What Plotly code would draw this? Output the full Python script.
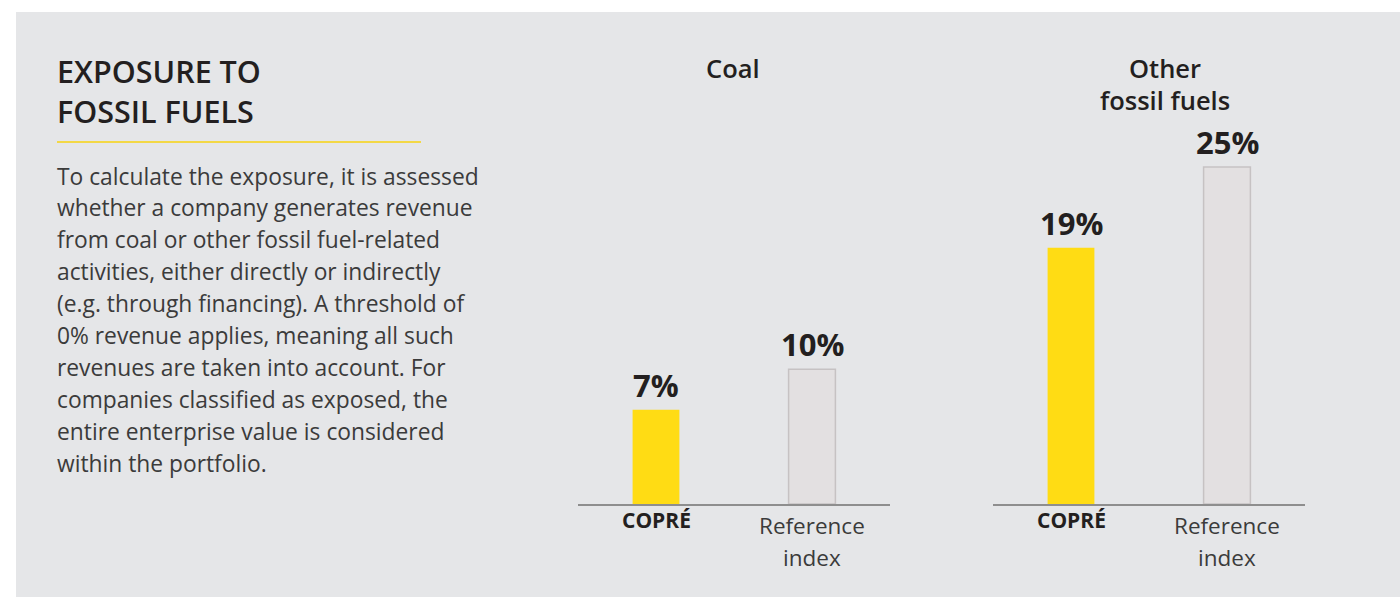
import plotly.graph_objects as go

# ---- data ----
categories = ["COPRÉ", "Reference index"]
groups = ["Coal", "Other fossil fuels"]
coal_values = [7, 10]
other_values = [19, 25]
value_suffix = "%"

title_text = "EXPOSURE TO<br>FOSSIL FUELS"
paragraph_lines = [
    "To calculate the exposure, it is assessed",
    "whether a company generates revenue",
    "from coal or other fossil fuel-related",
    "activities, either directly or indirectly",
    "(e.g. through financing). A threshold of",
    "0% revenue applies, meaning all such",
    "revenues are taken into account. For",
    "companies classified as exposed, the",
    "entire enterprise value is considered",
    "within the portfolio.",
]

# ---- layout helpers ----
W, H = 1400, 597
FONT = "'Open Sans', Lato, sans-serif"
DARK = "#231f20"
TEXT = "#3b3b3b"
YELLOW = "#FFDC14"
REF_FILL = "#e3e0e1"
REF_LINE = "#c6c2c3"
PANEL = "#e5e6e8"


def px(x):
    return x / W


def py(y):
    return 1 - y / H


fig = go.Figure()

series = [coal_values, other_values]
xdomains = [(578, 890), (993, 1305)]
ydom = (py(504), py(150))
yrange = [0, 26.26]

for i, (vals, grp) in enumerate(zip(series, groups)):
    xa = "x" if i == 0 else "x2"
    ya = "y" if i == 0 else "y2"
    fig.add_trace(go.Bar(
        x=categories, y=vals, xaxis=xa, yaxis=ya, width=0.3,
        marker=dict(color=[YELLOW, REF_FILL],
                    line=dict(color=["rgba(0,0,0,0)", REF_LINE], width=1.5)),
        hoverinfo="skip", showlegend=False,
    ))
    # value labels
    for c, v in zip(categories, vals):
        fig.add_annotation(
            x=c, y=v, xref=xa, yref=ya, text=f"{v}{value_suffix}",
            showarrow=False, xanchor="center", yanchor="bottom", yshift=2,
            font=dict(family=FONT, size=31, color=DARK, weight=700),
        )
    # category labels
    for j, c in enumerate(categories):
        if j == 0:
            fig.add_annotation(
                x=c, y=py(520), xref=xa, yref="paper", text=c,
                showarrow=False, xanchor="center", yanchor="middle",
                font=dict(family=FONT, size=21, color=DARK, weight=700),
            )
        else:
            for k, line in enumerate(c.split(" ")):
                fig.add_annotation(
                    x=c, y=py(525 + 32 * k), xref=xa, yref="paper", text=line,
                    showarrow=False, xanchor="center", yanchor="middle",
                    font=dict(family=FONT, size=22.5, color=TEXT),
                )

# group titles
group_centers = [733, 1165]
for g, cx in zip(groups, group_centers):
    words = g.split(" ", 1)
    lines = words if len(words) > 1 else [g]
    for k, line in enumerate(lines):
        fig.add_annotation(
            x=px(cx), y=py(68 + 32 * k), xref="paper", yref="paper",
            text=line, showarrow=False, xanchor="center", yanchor="middle",
            font=dict(family=FONT, size=25.5, color=DARK, weight=600),
        )

# title
fig.add_annotation(
    x=px(55), y=py(91), xref="paper", yref="paper", text=title_text,
    showarrow=False, xanchor="left", yanchor="middle", align="left",
    font=dict(family=FONT, size=30.5, color=DARK, weight=600),
)

# paragraph
for k, line in enumerate(paragraph_lines):
    fig.add_annotation(
        x=px(55), y=py(176 + 31.9 * k), xref="paper", yref="paper", text=line,
        showarrow=False, xanchor="left", yanchor="middle", align="left",
        font=dict(family=FONT, size=22.8, color=TEXT),
    )

axis_common = dict(showgrid=False, zeroline=False, showticklabels=False,
                   ticks="", range=[-0.5, 1.5], showline=True,
                   linecolor="#8e8e8e", linewidth=1.5, fixedrange=True)
yaxis_common = dict(showgrid=False, zeroline=False, showticklabels=False,
                    showline=False, range=yrange, domain=list(ydom), fixedrange=True)

fig.update_layout(
    width=W, height=H,
    margin=dict(l=0, r=0, t=0, b=0),
    paper_bgcolor="white",
    plot_bgcolor="rgba(0,0,0,0)",
    xaxis=dict(domain=[px(xdomains[0][0]), px(xdomains[0][1])], anchor="y", **axis_common),
    xaxis2=dict(domain=[px(xdomains[1][0]), px(xdomains[1][1])], anchor="y2", **axis_common),
    yaxis=dict(anchor="x", **yaxis_common),
    yaxis2=dict(anchor="x2", **yaxis_common),
    shapes=[
        dict(type="rect", xref="paper", yref="paper", x0=px(16), x1=1, y0=0, y1=py(12),
             fillcolor=PANEL, line=dict(width=0), layer="below"),
        dict(type="line", xref="paper", yref="paper", x0=px(57), x1=px(421),
             y0=py(142), y1=py(142), line=dict(color="#f3d846", width=2)),
    ],
)

fig.write_html("out.html")
